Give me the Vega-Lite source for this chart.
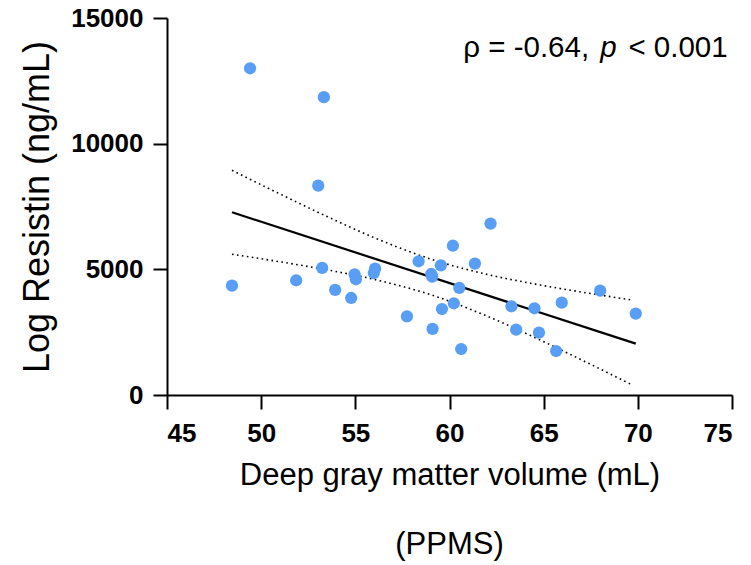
{
  "$schema": "https://vega.github.io/schema/vega-lite/v6.json",
  "width": 565,
  "height": 377,
  "autosize": {"type": "none"},
  "padding": {"left": 167, "top": 18, "right": 19, "bottom": 170},
  "background": "white",
  "title": {"text": "(PPMS)", "orient": "bottom", "anchor": "middle", "offset": 40, "fontSize": 31, "font": "Liberation Sans", "fontWeight": "normal", "color": "black"},
  "config": {
    "view": {"stroke": null},
    "font": "Liberation Sans",
    "axis": {
      "grid": false,
      "domainColor": "black",
      "domainWidth": 2,
      "tickColor": "black",
      "tickWidth": 2,
      "tickSize": 14,
      "labelFont": "Liberation Sans",
      "labelFontWeight": "bold",
      "labelFontSize": 26,
      "labelColor": "black",
      "titleFont": "Liberation Sans",
      "titleFontWeight": "normal",
      "titleColor": "black"
    }
  },
  "datasets": {
    "points": [
      {"gm": 49.41, "res": 13000},
      {"gm": 53.33, "res": 11850},
      {"gm": 53.03, "res": 8330},
      {"gm": 48.45, "res": 4350},
      {"gm": 51.86, "res": 4565},
      {"gm": 53.24, "res": 5055},
      {"gm": 53.93, "res": 4180},
      {"gm": 54.78, "res": 3860},
      {"gm": 54.96, "res": 4800},
      {"gm": 55.03, "res": 4605},
      {"gm": 56.05, "res": 5030},
      {"gm": 55.98, "res": 4850},
      {"gm": 57.74, "res": 3130},
      {"gm": 58.36, "res": 5320},
      {"gm": 59.03, "res": 4815},
      {"gm": 59.08, "res": 4710},
      {"gm": 59.10, "res": 2630},
      {"gm": 59.54, "res": 5160},
      {"gm": 59.60, "res": 3420},
      {"gm": 60.18, "res": 5940},
      {"gm": 60.23, "res": 3650},
      {"gm": 60.52, "res": 4260},
      {"gm": 60.62, "res": 1830},
      {"gm": 61.35, "res": 5230},
      {"gm": 62.18, "res": 6820},
      {"gm": 63.29, "res": 3530},
      {"gm": 63.54, "res": 2600},
      {"gm": 64.51, "res": 3450},
      {"gm": 64.75, "res": 2480},
      {"gm": 65.66, "res": 1750},
      {"gm": 65.96, "res": 3675},
      {"gm": 68.00, "res": 4150},
      {"gm": 69.89, "res": 3240}
    ],
    "fit": [
      {"gm": 48.45, "res": 7271},
      {"gm": 69.89, "res": 2043}
    ],
    "band": [
      {"gm": 48.45, "res": 8941, "side": "upper"},
      {"gm": 51.0, "res": 7997, "side": "upper"},
      {"gm": 53.5, "res": 7101, "side": "upper"},
      {"gm": 56.0, "res": 6260, "side": "upper"},
      {"gm": 59.0, "res": 5409, "side": "upper"},
      {"gm": 62.0, "res": 4797, "side": "upper"},
      {"gm": 64.5, "res": 4419, "side": "upper"},
      {"gm": 67.0, "res": 4097, "side": "upper"},
      {"gm": 69.75, "res": 3774, "side": "upper"},
      {"gm": 48.45, "res": 5601, "side": "lower"},
      {"gm": 51.0, "res": 5301, "side": "lower"},
      {"gm": 53.5, "res": 4979, "side": "lower"},
      {"gm": 56.0, "res": 4600, "side": "lower"},
      {"gm": 59.0, "res": 3989, "side": "lower"},
      {"gm": 62.0, "res": 3137, "side": "lower"},
      {"gm": 64.5, "res": 2297, "side": "lower"},
      {"gm": 67.0, "res": 1401, "side": "lower"},
      {"gm": 69.75, "res": 382, "side": "lower"}
    ],
    "note_regular": [
      {"gm": 60.73, "res": 13460, "label": "ρ = -0.64,"},
      {"gm": 69.5, "res": 13460, "label": "< 0.001"}
    ],
    "note_italic": [
      {"gm": 68.0, "res": 13460, "label": "p"}
    ]
  },
  "layer": [
    {
      "data": {"name": "band"},
      "mark": {"type": "line", "color": "black", "strokeWidth": 1.6, "strokeDash": [1.6, 3.4], "interpolate": "monotone"},
      "encoding": {
        "x": {"field": "gm", "type": "quantitative", "scale": {"domain": [45, 75], "nice": false, "zero": false},
              "axis": {"values": [45, 50, 55, 60, 65, 70, 75], "labelPadding": 11,
                       "title": "Deep gray matter volume (mL)", "titleFontSize": 31, "titlePadding": 14}},
        "y": {"field": "res", "type": "quantitative", "scale": {"domain": [0, 15000], "nice": false},
              "axis": {"values": [0, 5000, 10000, 15000], "format": "d", "labelPadding": 10,
                       "title": "Log Resistin (ng/mL)", "titleFontSize": 36, "titlePadding": 14}},
        "detail": {"field": "side"}
      }
    },
    {
      "data": {"name": "fit"},
      "mark": {"type": "line", "color": "black", "strokeWidth": 2.2},
      "encoding": {
        "x": {"field": "gm", "type": "quantitative", "scale": {"domain": [45, 75], "nice": false, "zero": false}},
        "y": {"field": "res", "type": "quantitative", "scale": {"domain": [0, 15000], "nice": false}}
      }
    },
    {
      "data": {"name": "points"},
      "mark": {"type": "circle", "size": 150, "color": "#589ef5", "opacity": 1},
      "encoding": {
        "x": {"field": "gm", "type": "quantitative", "scale": {"domain": [45, 75], "nice": false, "zero": false}},
        "y": {"field": "res", "type": "quantitative", "scale": {"domain": [0, 15000], "nice": false}}
      }
    },
    {
      "data": {"name": "note_regular"},
      "mark": {"type": "text", "align": "left", "baseline": "alphabetic", "fontSize": 29.5, "font": "Liberation Sans", "color": "black"},
      "encoding": {
        "x": {"field": "gm", "type": "quantitative"},
        "y": {"field": "res", "type": "quantitative"},
        "text": {"field": "label"}
      }
    },
    {
      "data": {"name": "note_italic"},
      "mark": {"type": "text", "align": "left", "baseline": "alphabetic", "fontSize": 29.5, "font": "Liberation Sans", "fontStyle": "italic", "color": "black"},
      "encoding": {
        "x": {"field": "gm", "type": "quantitative"},
        "y": {"field": "res", "type": "quantitative"},
        "text": {"field": "label"}
      }
    }
  ]
}
